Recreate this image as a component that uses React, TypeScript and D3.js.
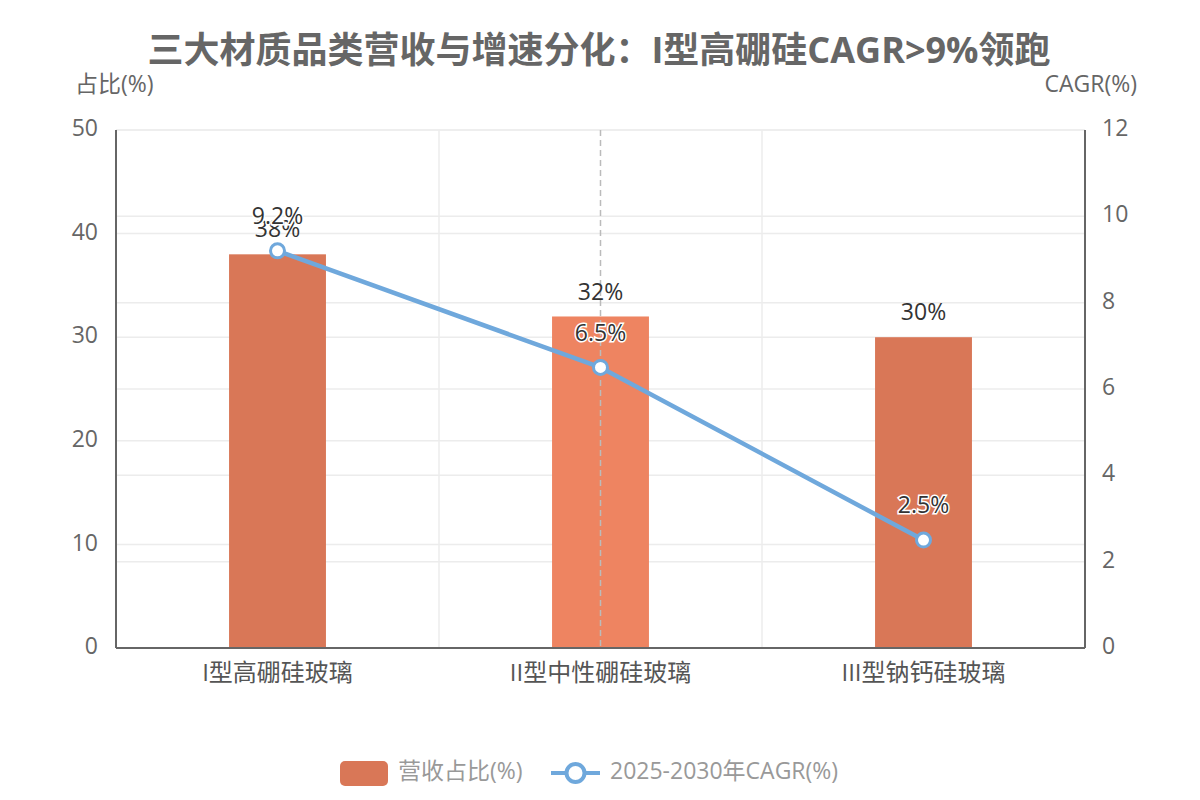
import React, { useRef, useEffect } from 'react';
import * as d3 from 'd3';

const categories = ['I型高硼硅玻璃', 'II型中性硼硅玻璃', 'III型钠钙硅玻璃'];
const shareValues = [38, 32, 30];
const cagrValues = [9.2, 6.5, 2.5];
const leftTicks = [0, 10, 20, 30, 40, 50];
const rightTicks = [0, 2, 4, 6, 8, 10, 12];

const FONT = '"Open Sans", "Noto Sans CJK SC", sans-serif';
const BAR = '#d97757';
const BAR_HI = '#ee8461';
const LINE = '#6fa8dc';

const App: React.FC = () => {
  const svgRef = useRef<SVGSVGElement | null>(null);
  const width = 1200;
  const height = 800;

  useEffect(() => {
    const svg = d3.select(svgRef.current);
    svg.selectAll('*').remove();

    const margin = { top: 130, right: 115, bottom: 152, left: 116 };
    const w = width - margin.left - margin.right;
    const h = height - margin.top - margin.bottom;

    svg.append('rect').attr('width', width).attr('height', height).attr('fill', '#fff');

    svg.append('text')
      .attr('x', 599).attr('y', 53)
      .attr('text-anchor', 'middle').attr('dominant-baseline', 'middle')
      .style('font-family', FONT).style('font-size', '36px').style('font-weight', 'bold')
      .attr('fill', '#666')
      .text('三大材质品类营收与增速分化：I型高硼硅CAGR>9%领跑');

    const g = svg.append('g').attr('transform', `translate(${margin.left},${margin.top})`);

    const x = d3.scaleBand().domain(categories).range([0, w]);
    const yL = d3.scaleLinear().domain([0, 50]).range([h, 0]);
    const yR = d3.scaleLinear().domain([0, 12]).range([h, 0]);

    // gridlines from both value axes plus category splits
    const grid = g.append('g');
    leftTicks.forEach(t => {
      grid.append('line').attr('x1', 0).attr('x2', w).attr('y1', yL(t)).attr('y2', yL(t))
        .attr('stroke', '#ececec').attr('stroke-width', 1.5);
    });
    rightTicks.forEach(t => {
      grid.append('line').attr('x1', 0).attr('x2', w).attr('y1', yR(t)).attr('y2', yR(t))
        .attr('stroke', '#ececec').attr('stroke-width', 1.5);
    });
    categories.slice(1).forEach(c => {
      grid.append('line').attr('x1', x(c)!).attr('x2', x(c)!).attr('y1', 0).attr('y2', h)
        .attr('stroke', '#ececec').attr('stroke-width', 1.5);
    });

    // bars
    const barW = x.bandwidth() * 0.3;
    g.selectAll('rect.bar').data(shareValues).enter().append('rect')
      .attr('class', 'bar')
      .attr('x', (d, i) => x(categories[i])! + (x.bandwidth() - barW) / 2)
      .attr('y', d => yL(d))
      .attr('width', barW)
      .attr('height', d => h - yL(d))
      .attr('fill', (d, i) => (i === 1 ? BAR_HI : BAR));

    // hover pointer on middle category
    const cx = (i: number) => x(categories[i])! + x.bandwidth() / 2;
    g.append('line').attr('x1', cx(1)).attr('x2', cx(1)).attr('y1', 0).attr('y2', h)
      .attr('stroke', '#bbb').attr('stroke-width', 1.5).attr('stroke-dasharray', '6,4');

    // axes
    const axisColor = '#666';
    g.append('line').attr('x1', 0).attr('x2', 0).attr('y1', 0).attr('y2', h).attr('stroke', axisColor).attr('stroke-width', 2);
    g.append('line').attr('x1', w).attr('x2', w).attr('y1', 0).attr('y2', h).attr('stroke', axisColor).attr('stroke-width', 2);
    g.append('line').attr('x1', 0).attr('x2', w).attr('y1', h).attr('y2', h).attr('stroke', axisColor).attr('stroke-width', 2);

    const tickStyle = (sel: any) => sel.style('font-family', FONT).style('font-size', '23px').attr('fill', '#666');
    leftTicks.forEach(t => {
      g.append('text').attr('x', -18).attr('y', yL(t)).attr('text-anchor', 'end')
        .attr('dominant-baseline', 'middle').call(tickStyle).text(t);
    });
    rightTicks.forEach(t => {
      g.append('text').attr('x', w + 17).attr('y', yR(t)).attr('text-anchor', 'start')
        .attr('dominant-baseline', 'middle').call(tickStyle).text(t);
    });
    categories.forEach((c, i) => {
      g.append('text').attr('x', cx(i)).attr('y', h + 27).attr('text-anchor', 'middle')
        .attr('dominant-baseline', 'middle').call(tickStyle).style('font-size', '24px').attr('fill', '#555').text(c);
    });

    svg.append('text').attr('x', 75).attr('y', 86).attr('dominant-baseline', 'middle')
      .call(tickStyle).text('占比(%)');
    svg.append('text').attr('x', 1137).attr('y', 86).attr('text-anchor', 'end')
      .attr('dominant-baseline', 'middle').call(tickStyle).text('CAGR(%)');

    // bar labels
    g.selectAll('text.barlabel').data(shareValues).enter().append('text')
      .attr('x', (d, i) => cx(i)).attr('y', d => yL(d) - 23)
      .attr('text-anchor', 'middle').attr('dominant-baseline', 'middle')
      .style('font-family', FONT).style('font-size', '23px').attr('fill', '#333')
      .text(d => `${d}%`);

    // CAGR line
    const line = d3.line<number>().x((d, i) => cx(i)).y(d => yR(d));
    g.append('path').datum(cagrValues).attr('d', line).attr('fill', 'none')
      .attr('stroke', LINE).attr('stroke-width', 4.5).attr('stroke-linejoin', 'round');

    g.selectAll('circle.pt').data(cagrValues).enter().append('circle')
      .attr('cx', (d, i) => cx(i)).attr('cy', d => yR(d)).attr('r', 7)
      .attr('fill', '#fff').attr('stroke', LINE).attr('stroke-width', 3);

    g.selectAll('text.linelabel').data(cagrValues).enter().append('text')
      .attr('x', (d, i) => cx(i)).attr('y', d => yR(d) - 33)
      .attr('text-anchor', 'middle').attr('dominant-baseline', 'middle')
      .style('font-family', FONT).style('font-size', '23px').attr('fill', '#333')
      .attr('stroke', '#fff').attr('stroke-width', 3).attr('paint-order', 'stroke')
      .text(d => `${d}%`);

    // legend
    const lg = svg.append('g').attr('transform', 'translate(0,773)');
    lg.append('rect').attr('x', 340).attr('y', -12).attr('width', 48).attr('height', 25).attr('rx', 5).attr('fill', BAR);
    lg.append('text').attr('x', 398).attr('y', 0).attr('dominant-baseline', 'middle')
      .style('font-family', FONT).style('font-size', '23px').attr('fill', '#999').text('营收占比(%)');
    lg.append('line').attr('x1', 551).attr('x2', 600).attr('y1', 0).attr('y2', 0).attr('stroke', LINE).attr('stroke-width', 4);
    lg.append('circle').attr('cx', 575.5).attr('cy', 0).attr('r', 9).attr('fill', '#fff').attr('stroke', LINE).attr('stroke-width', 4);
    lg.append('text').attr('x', 610).attr('y', 0).attr('dominant-baseline', 'middle')
      .style('font-family', FONT).style('font-size', '23px').attr('fill', '#999').text('2025-2030年CAGR(%)');

    return () => {
      svg.selectAll('*').remove();
    };
  }, []);

  return <svg ref={svgRef} width={width} height={height} style={{ display: 'block', position: 'absolute', left: 0, top: 0 }}></svg>;
};

export default App;
